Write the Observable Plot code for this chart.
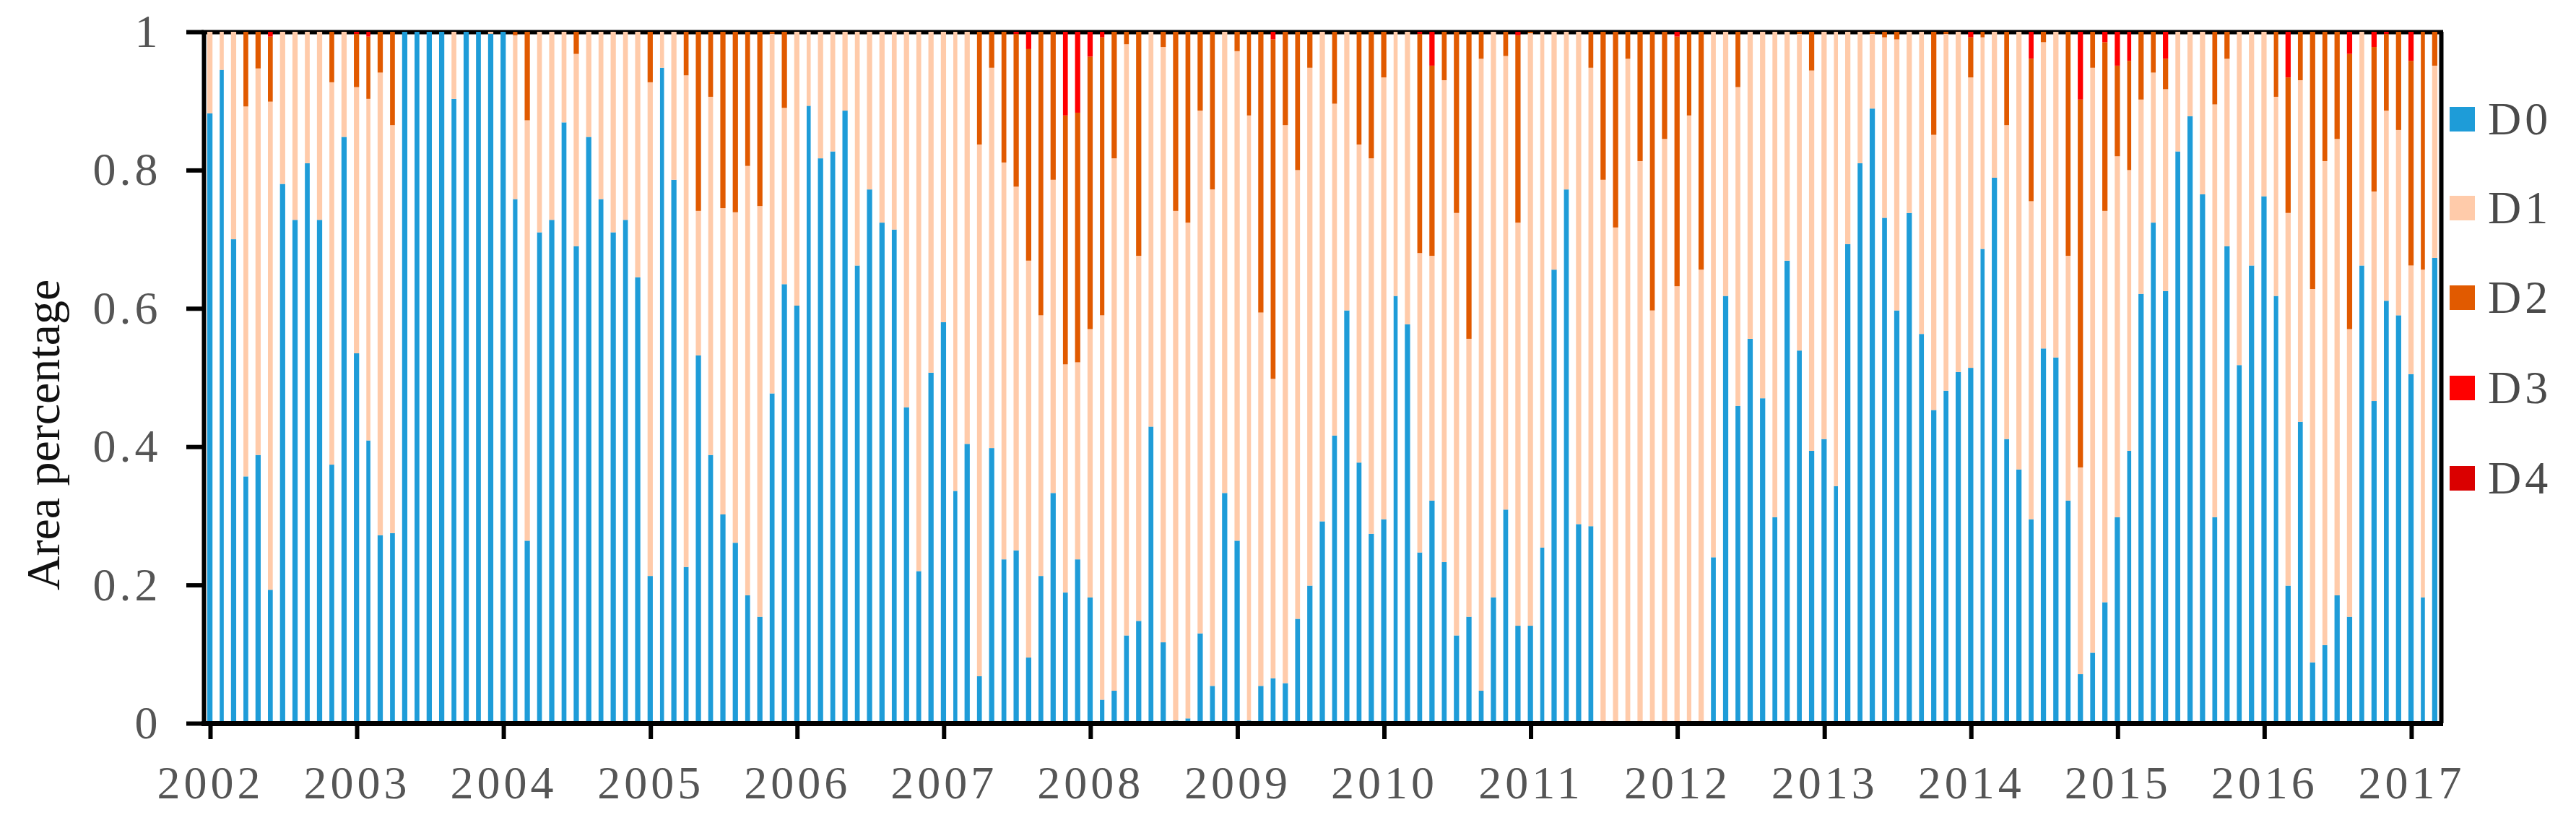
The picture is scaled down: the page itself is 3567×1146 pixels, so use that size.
<!DOCTYPE html>
<html><head><meta charset="utf-8">
<script src="https://cdn.jsdelivr.net/npm/d3@7"></script>
<script src="https://cdn.jsdelivr.net/npm/@observablehq/plot@0.6"></script>
<style>
body{margin:0;background:#fff;}
#chart{position:relative;width:3567px;height:1146px;background:#fff;}
#chart svg text{letter-spacing:5px;}
#chart svg g[aria-label="text"] text{letter-spacing:0;}
.legend{position:absolute;left:3392px;top:0;font-family:"Liberation Serif",serif;font-size:64px;color:#4a4a4a;letter-spacing:5px;}
.item{position:absolute;left:0;display:flex;align-items:center;height:60px;line-height:60px;white-space:nowrap;}
.sw{width:35px;height:34px;margin-right:18px;}
</style></head><body><div id="chart"></div>
<script>
const classes = ["D0","D1","D2","D3","D4"];
const colors = ["#1e9cd8","#ffcbaa","#e15a00","#ff0000","#da0000"];
const yTicks = [0,0.2,0.4,0.6,0.8,1];
const tickYears = [2002,2003,2004,2005,2006,2007,2008,2009,2010,2011,2012,2013,2014,2015,2016,2017];
const yLabel = "Area percentage";
const startYear = 2002, nMonths = 183;
const domainStart = [2002,0], domainEnd = [2017,3];

// fraction of area in each class, monthly from Jan 2002 to Mar 2017
const d0 = [
.882,.945,.700,.357,.388,.193,.780,.728,.810,.728,.374,.848,
.535,.409,.272,.275,1,1,1,1,.903,1,1,.997,
1,.758,.264,.710,.728,.869,.690,.848,.758,.710,.728,.645,
.213,.948,.786,.226,.532,.388,.302,.261,.185,.154,.477,.635,
.604,.893,.817,.827,.886,.662,.772,.724,.714,.457,.220,.507,
.580,.336,.404,.068,.398,.237,.250,.095,.213,.333,.189,.237,
.182,.034,.047,.127,.148,.429,.117,.004,.007,.130,.054,.333,
.264,.004,.054,.065,.058,.151,.199,.292,.416,.597,.377,.274,
.295,.618,.577,.247,.322,.233,.127,.154,.047,.182,.309,.141,
.141,.254,.656,.772,.288,.285,0,0,0,0,0,0,
0,0,0,.240,.618,.459,.556,.470,.298,.669,.539,.394,
.411,.343,.693,.810,.889,.731,.597,.738,.563,.453,.481,.508,
.514,.686,.789,.411,.367,.295,.542,.529,.322,.071,.102,.175,
.298,.394,.621,.724,.625,.827,.878,.765,.298,.690,.518,.662,
.762,.618,.199,.436,.088,.113,.185,.154,.662,.466,.611,.590,
.505,.182,.673];
const d1 = [
.118,.055,.300,.535,.559,.706,.220,.272,.190,.272,.553,.152,
.385,.494,.669,.590,0,0,0,0,.097,0,0,.003,
0,.237,.608,.290,.272,.131,.278,.152,.242,.290,.272,.355,
.714,.052,.214,.711,.209,.518,.443,.478,.621,.594,.520,.255,
.396,.107,.183,.173,.114,.338,.228,.276,.286,.543,.780,.493,
.420,.664,.596,.769,.550,.574,.526,.574,.377,.453,.330,.285,
.388,.556,.770,.855,.528,.571,.861,.737,.717,.756,.718,.667,
.708,.875,.540,.433,.807,.649,.749,.708,.480,.403,.460,.543,
.639,.382,.423,.433,.354,.697,.611,.402,.914,.818,.656,.583,
.857,.746,.344,.228,.712,.663,.786,.717,.961,.813,.597,.845,
.632,.879,.656,.760,.382,.461,.444,.530,.702,.331,.458,.550,
.589,.657,.307,.190,.108,.261,.392,.262,.437,.398,.516,.492,
.420,.306,.211,.454,.633,.460,.443,.471,.354,.299,.846,.566,
.522,.406,.281,.217,.292,.173,.122,.235,.597,.271,.482,.338,
.238,.288,.539,.494,.540,.700,.660,.416,.338,.303,.275,.268,
.157,.474,.278];
const d2 = [
0,0,0,.108,.053,.094,0,0,0,0,.073,0,
.077,.090,.059,.135,0,0,0,0,0,0,0,0,
0,.005,.128,0,0,0,.032,0,0,0,0,0,
.073,0,0,.063,.259,.094,.255,.261,.194,.252,.003,.110,
0,0,0,0,0,0,0,0,0,0,0,0,
0,0,0,.163,.052,.189,.221,.306,.410,.214,.360,.361,
.394,.402,.183,.018,.324,0,.022,.259,.276,.114,.228,0,
.028,.121,.406,.491,.135,.200,.052,0,.104,0,.163,.183,
.066,0,0,.317,.275,.070,.262,.444,.039,0,.035,.271,
.002,0,0,0,0,.052,.214,.283,.039,.187,.403,.155,
.361,.121,.344,0,0,.080,0,0,0,0,.003,.056,
0,0,0,0,.003,.008,.011,0,0,.149,.003,0,
.058,.008,0,.135,0,.206,.015,0,.324,.532,.052,.244,
.131,.158,.098,.059,.044,0,0,0,.105,.039,0,0,
0,.094,.196,.070,.372,.187,.155,.398,0,.209,.111,.142,
.296,.344,.049];
const d3v = [
0,0,0,0,0,.007,0,0,0,0,0,0,
.003,.007,0,0,0,0,0,0,0,0,0,0,
0,0,0,0,0,0,0,0,0,0,0,0,
0,0,0,0,0,0,0,0,0,0,0,0,
0,0,0,0,0,0,0,0,0,0,0,0,
0,0,0,0,0,0,.003,.025,0,0,.121,.117,
.036,.008,0,0,0,0,0,0,0,0,0,0,
0,0,0,.011,0,0,0,0,0,0,0,0,
0,0,0,.003,.049,0,0,0,0,0,0,.005,
0,0,0,0,0,0,0,0,0,0,0,0,
.007,0,0,0,0,0,0,0,0,0,0,0,
0,0,0,0,0,0,0,0,0,0,0,0,
.008,0,0,0,0,.039,0,0,0,.098,0,.015,
.049,.042,0,0,.039,0,0,0,0,0,0,0,
0,0,.066,0,0,0,0,.032,0,.022,.003,0,
.042,0,0];
const d4 = [
0,0,0,0,0,0,0,0,0,0,0,0, 0,0,0,0,0,0,0,0,0,0,0,0,
0,0,0,0,0,0,0,0,0,0,0,0, 0,0,0,0,0,0,0,0,0,0,0,0,
0,0,0,0,0,0,0,0,0,0,0,0, 0,0,0,0,0,0,0,0,0,0,0,0,
0,0,0,0,0,0,0,0,0,0,0,0, 0,0,0,0,0,0,0,0,0,0,0,0,
0,0,0,0,0,0,0,0,0,0,0,0, 0,0,0,0,0,0,0,0,0,0,0,0,
0,0,0,0,0,0,0,0,0,0,0,0, 0,0,0,0,0,0,0,0,0,0,0,0,
0,0,0,0,0,0,0,0,0,0,0,0, 0,0,0,0,0,0,0,0,0,0,0,0,
0,0,0,0,0,0,0,0,0,0,0,0, 0,0,0];

const series = [d0, d1, d2, d3v, d4];
const rows = [];
for (let i = 0; i < nMonths; i++) {
  const date = new Date(Date.UTC(startYear, i, 1));
  classes.forEach((c, k) => rows.push({date, cls: c, value: series[k][i]}));
}
const x0 = new Date(Date.UTC(...domainStart, 1));
const x1 = new Date(Date.UTC(...domainEnd, 1));
const xTickDates = tickYears.map(y => new Date(Date.UTC(y, 0, 1)));

const chart = Plot.plot({
  width: 3567, height: 1146,
  marginLeft: 282, marginRight: 187, marginTop: 44, marginBottom: 145,
  style: {fontFamily: '"Liberation Serif", "Times New Roman", serif', background: "white"},
  x: {type: "utc", domain: [x0, x1]},
  y: {domain: [0, 1]},
  color: {domain: classes, range: colors},
  marks: [
    Plot.ruleY([1], {stroke: "black", strokeWidth: 6, insetLeft: -3, insetRight: -3}),
    Plot.rectY(rows, {x: "date", interval: d3.utcMonth, y: "value", fill: "cls", order: classes, insetLeft: 5, insetRight: 5}),
    Plot.ruleX([x0, x1], {stroke: "black", strokeWidth: 6}),
    Plot.ruleY([0], {stroke: "black", strokeWidth: 7, insetLeft: -3, insetRight: -3}),
    Plot.axisY({ticks: yTicks, tickSize: 24, tickPadding: 35, tickFormat: d => String(d), strokeWidth: 6, stroke: "black", fill: "#555", fontSize: 64, label: null}),
    Plot.axisX({ticks: xTickDates, tickSize: 22, tickPadding: 36, tickFormat: d3.utcFormat("%Y"), strokeWidth: 6, stroke: "black", fill: "#555", fontSize: 64, label: null, dx: 9}),
    Plot.text([yLabel], {frameAnchor: "left", textAnchor: "middle", dx: -222, dy: 79, rotate: -90, fontSize: 66, fill: "#111"})
  ]
});
const host = document.getElementById("chart");
host.appendChild(chart);

const legendCenters = [165, 288, 412, 537, 662];
const legend = d3.select(host).append("div").attr("class", "legend");
classes.forEach((c, k) => {
  const it = legend.append("div").attr("class", "item").style("top", (legendCenters[k] - 30) + "px");
  it.append("div").attr("class", "sw").style("background", colors[k]);
  it.append("span").text(c);
});
</script></body></html>
